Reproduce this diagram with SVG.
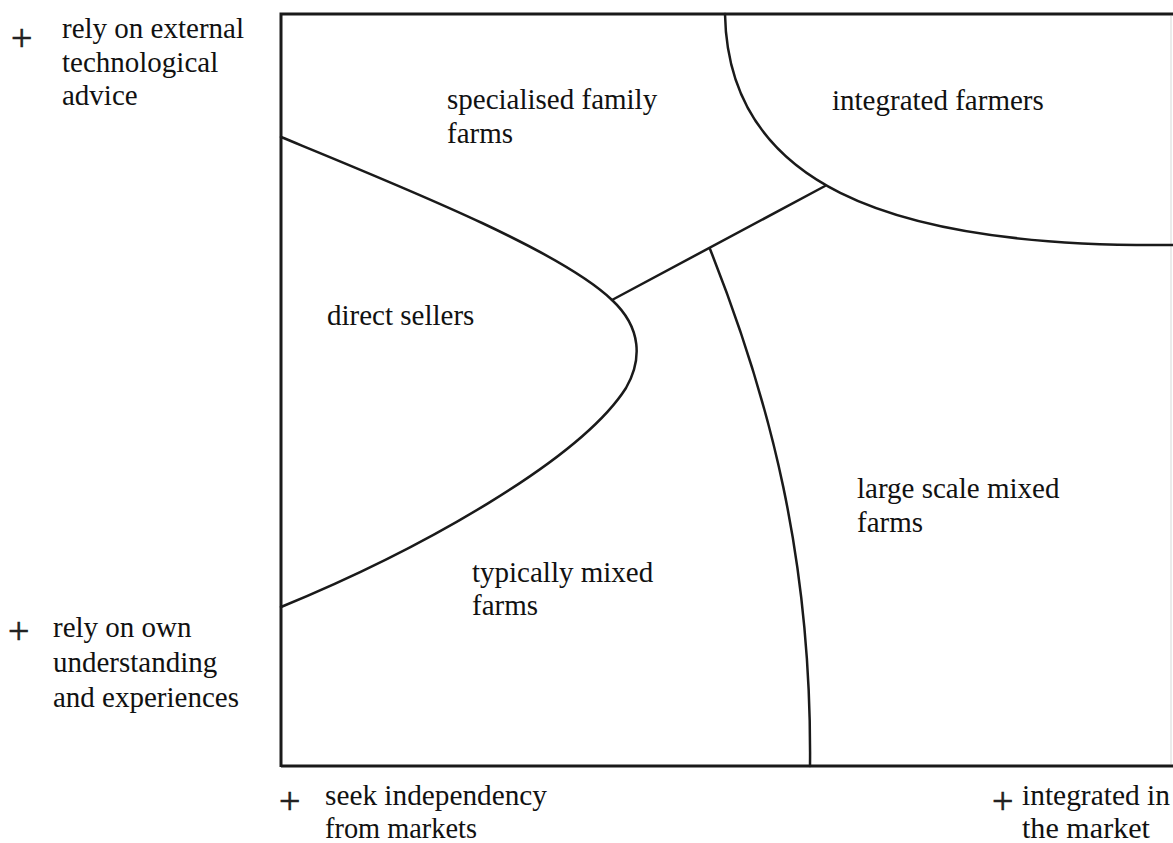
<svg xmlns="http://www.w3.org/2000/svg" width="1173" height="843" viewBox="0 0 1173 843">
<style>
.t{font-family:"Liberation Serif","Times New Roman",serif;font-size:29px;fill:#111}
.p{font-family:"Liberation Serif","Times New Roman",serif;font-size:38px;fill:#222;stroke:#222;stroke-width:0.6}
.ln{fill:none;stroke:#1a1a1a;stroke-width:2.5;stroke-linecap:round;stroke-linejoin:round}
.box{fill:none;stroke:#1a1a1a;stroke-width:3}
</style>
<rect width="1173" height="843" fill="#fff"/>
<g id="frame">
<path class="box" d="M281,767 L281,14 L1173,14"/>
<path class="box" d="M281,766 L1173,766"/>
<path d="M1171,16 L1171,764" fill="none" stroke="#e4e4e4" stroke-width="1.5"/>
</g>
<g id="connectors">
<path class="ln" d="M281,137 C400,186 560,250 612,300 C642,328 642,360 626,388 C580,460 420,550 281,607"/>
<path class="ln" d="M612,300 L825,186"/>
<path class="ln" d="M710,249 C770,400 812,560 810,766"/>
<path class="ln" d="M725,14 C728,180 880,248 1173,245"/>
</g>
<g id="axis-top-left">
<text class="p" x="11" y="51">+</text>
<text class="t" x="62" y="38">rely on external</text>
<text class="t" x="62" y="72">technological</text>
<text class="t" x="62" y="105">advice</text>
</g>
<g id="axis-bottom-left">
<text class="p" x="8" y="644">+</text>
<text class="t" x="53" y="637">rely on own</text>
<text class="t" x="53" y="672">understanding</text>
<text class="t" x="53" y="707">and experiences</text>
</g>
<g id="axis-bottom-start">
<text class="p" x="279" y="814">+</text>
<text class="t" x="325" y="805" font-size="36" textLength="222" lengthAdjust="spacingAndGlyphs">seek independency</text>
<text class="t" x="325" y="838" font-size="36" textLength="152" lengthAdjust="spacingAndGlyphs">from markets</text>
</g>
<g id="axis-bottom-end">
<text class="p" x="992" y="814">+</text>
<text class="t" x="1022" y="805" font-size="36" textLength="148" lengthAdjust="spacingAndGlyphs">integrated in</text>
<text class="t" x="1022" y="838" font-size="36" textLength="128" lengthAdjust="spacingAndGlyphs">the market</text>
</g>
<g id="specialised-family-farms">
<text class="t" x="447" y="109">specialised family</text>
<text class="t" x="447" y="143">farms</text>
</g>
<g id="integrated-farmers">
<text class="t" x="832" y="110">integrated farmers</text>
</g>
<g id="direct-sellers">
<text class="t" x="327" y="325">direct sellers</text>
</g>
<g id="typically-mixed-farms">
<text class="t" x="472" y="582">typically mixed</text>
<text class="t" x="472" y="615">farms</text>
</g>
<g id="large-scale-mixed-farms">
<text class="t" x="857" y="498">large scale mixed</text>
<text class="t" x="857" y="532">farms</text>
</g>
</svg>
